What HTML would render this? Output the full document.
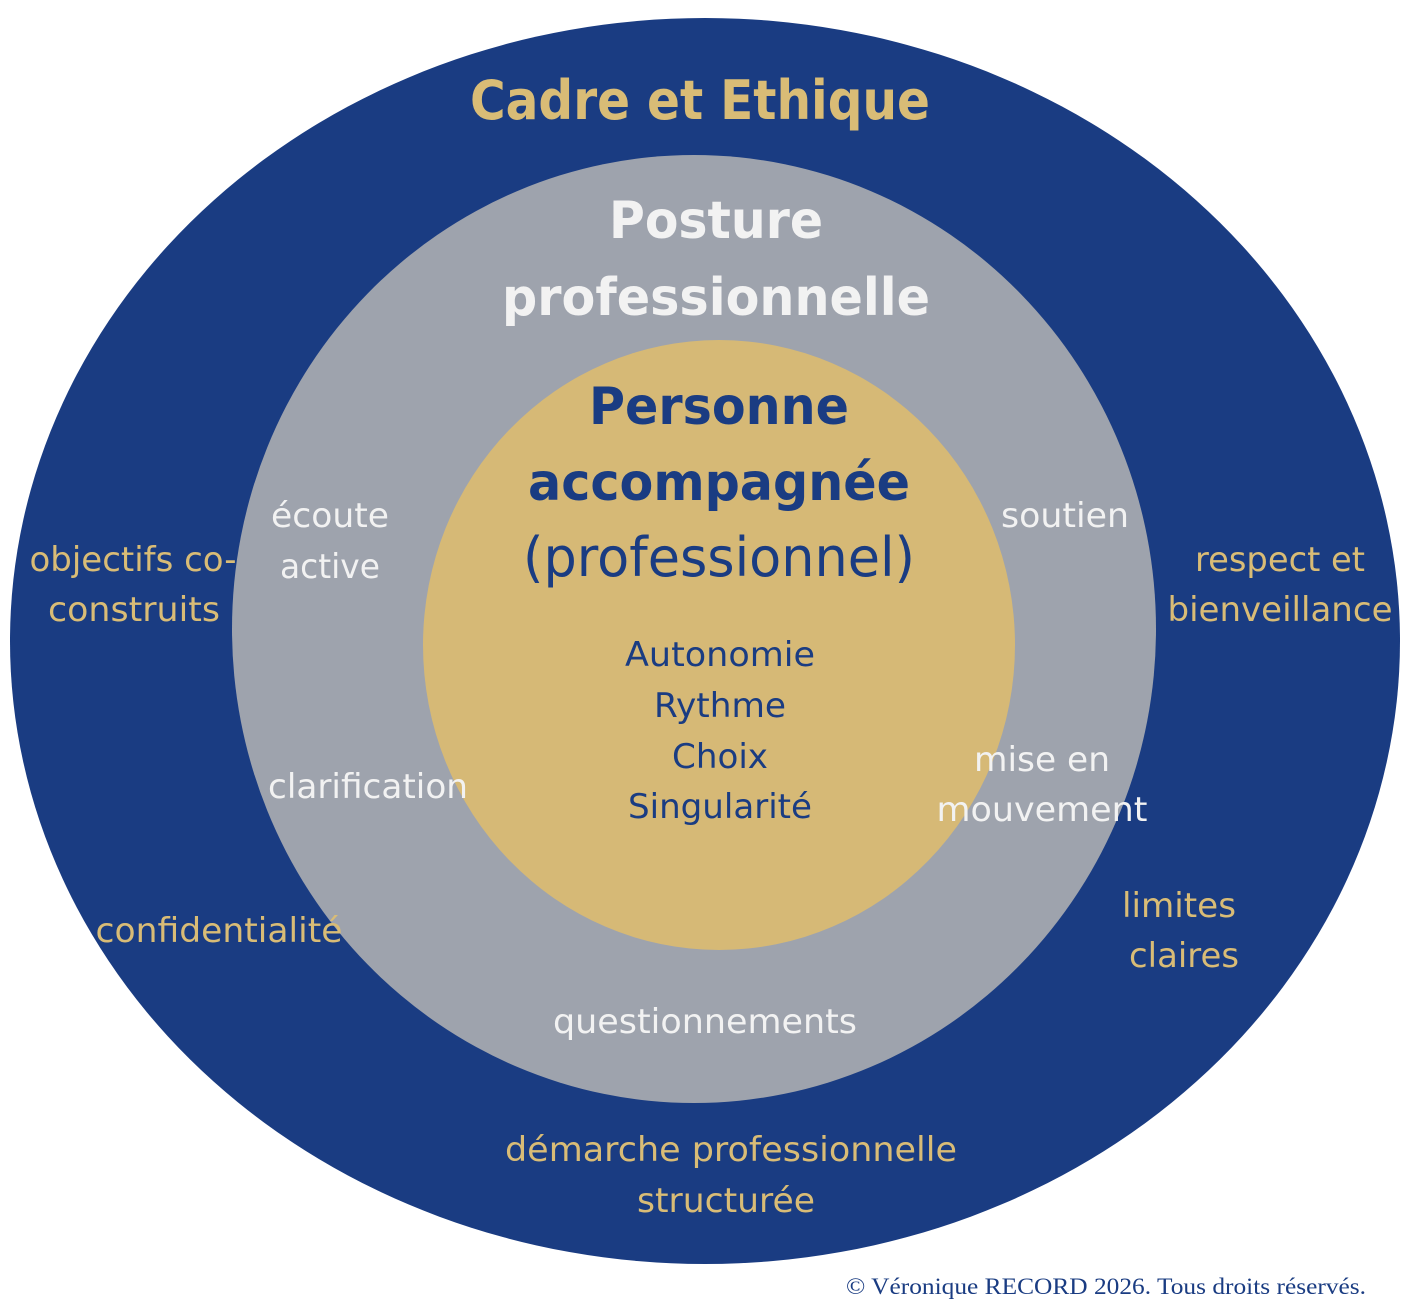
<!DOCTYPE html>
<html><head><meta charset="utf-8"><style>
html,body{margin:0;padding:0;background:#fff;width:1417px;height:1307px;overflow:hidden}
svg{display:block}
text{font-family:"DejaVu Sans","Liberation Sans",sans-serif;text-anchor:middle}
.g{fill:#d9bc76;font-size:34px}
.w{fill:#f2f2f2;font-size:34px}
.n{fill:#1a3c82;font-size:34px}
</style></head><body>
<svg width="1417" height="1307" viewBox="0 0 1417 1307">
<ellipse cx="705" cy="641" rx="695" ry="623" fill="#1a3c82"/>
<ellipse cx="694" cy="629" rx="462" ry="474" fill="#9ea3ad"/>
<ellipse cx="719" cy="645" rx="296" ry="305" fill="#d6b976"/>

<text x="700" y="119" style="font-weight:bold;font-size:54px;fill:#d9bc76" textLength="460" lengthAdjust="spacingAndGlyphs">Cadre et Ethique</text>
<text x="716" y="238" style="font-weight:bold;font-size:52px;fill:#f2f2f2" textLength="214" lengthAdjust="spacingAndGlyphs">Posture</text>
<text x="716" y="315" style="font-weight:bold;font-size:52px;fill:#f2f2f2" textLength="428" lengthAdjust="spacingAndGlyphs">professionnelle</text>
<text x="719" y="424" style="font-weight:bold;font-size:52px;fill:#1a3c82" textLength="260" lengthAdjust="spacingAndGlyphs">Personne</text>
<text x="719" y="500" style="font-weight:bold;font-size:52px;fill:#1a3c82" textLength="382" lengthAdjust="spacingAndGlyphs">accompagnée</text>
<text x="719" y="576" style="font-size:54px;fill:#1a3c82" textLength="392" lengthAdjust="spacingAndGlyphs">(professionnel)</text>

<text class="n" x="720" y="666" textLength="190" lengthAdjust="spacingAndGlyphs">Autonomie</text>
<text class="n" x="720" y="717" textLength="132" lengthAdjust="spacingAndGlyphs">Rythme</text>
<text class="n" x="720" y="768" textLength="96" lengthAdjust="spacingAndGlyphs">Choix</text>
<text class="n" x="720" y="818" textLength="184" lengthAdjust="spacingAndGlyphs">Singularité</text>

<text class="w" x="330" y="527" textLength="118" lengthAdjust="spacingAndGlyphs">écoute</text>
<text class="w" x="330" y="578" textLength="100" lengthAdjust="spacingAndGlyphs">active</text>
<text class="w" x="1065" y="527" textLength="128" lengthAdjust="spacingAndGlyphs">soutien</text>
<text class="w" x="368" y="798" textLength="200" lengthAdjust="spacingAndGlyphs">clarification</text>
<text class="w" x="1042" y="771" textLength="136" lengthAdjust="spacingAndGlyphs">mise en</text>
<text class="w" x="1042" y="821" textLength="211" lengthAdjust="spacingAndGlyphs">mouvement</text>
<text class="w" x="705" y="1033" textLength="304" lengthAdjust="spacingAndGlyphs">questionnements</text>

<text class="g" x="133" y="571" textLength="207" lengthAdjust="spacingAndGlyphs">objectifs co-</text>
<text class="g" x="134" y="621" textLength="172" lengthAdjust="spacingAndGlyphs">construits</text>
<text class="g" x="1280" y="571" textLength="170" lengthAdjust="spacingAndGlyphs">respect et</text>
<text class="g" x="1280" y="621" textLength="225" lengthAdjust="spacingAndGlyphs">bienveillance</text>
<text class="g" x="219" y="942" textLength="247" lengthAdjust="spacingAndGlyphs">confidentialité</text>
<text class="g" x="1179" y="917" textLength="114" lengthAdjust="spacingAndGlyphs">limites</text>
<text class="g" x="1184" y="967" textLength="110" lengthAdjust="spacingAndGlyphs">claires</text>
<text class="g" x="731" y="1161" textLength="452" lengthAdjust="spacingAndGlyphs">démarche professionnelle</text>
<text class="g" x="726" y="1212" textLength="178" lengthAdjust="spacingAndGlyphs">structurée</text>

<text x="1366" y="1294" style="text-anchor:end;font-family:'Liberation Serif',serif;font-size:23px;fill:#1a3c82" textLength="520" lengthAdjust="spacingAndGlyphs">© Véronique RECORD 2026. Tous droits réservés.</text>
</svg>
</body></html>
